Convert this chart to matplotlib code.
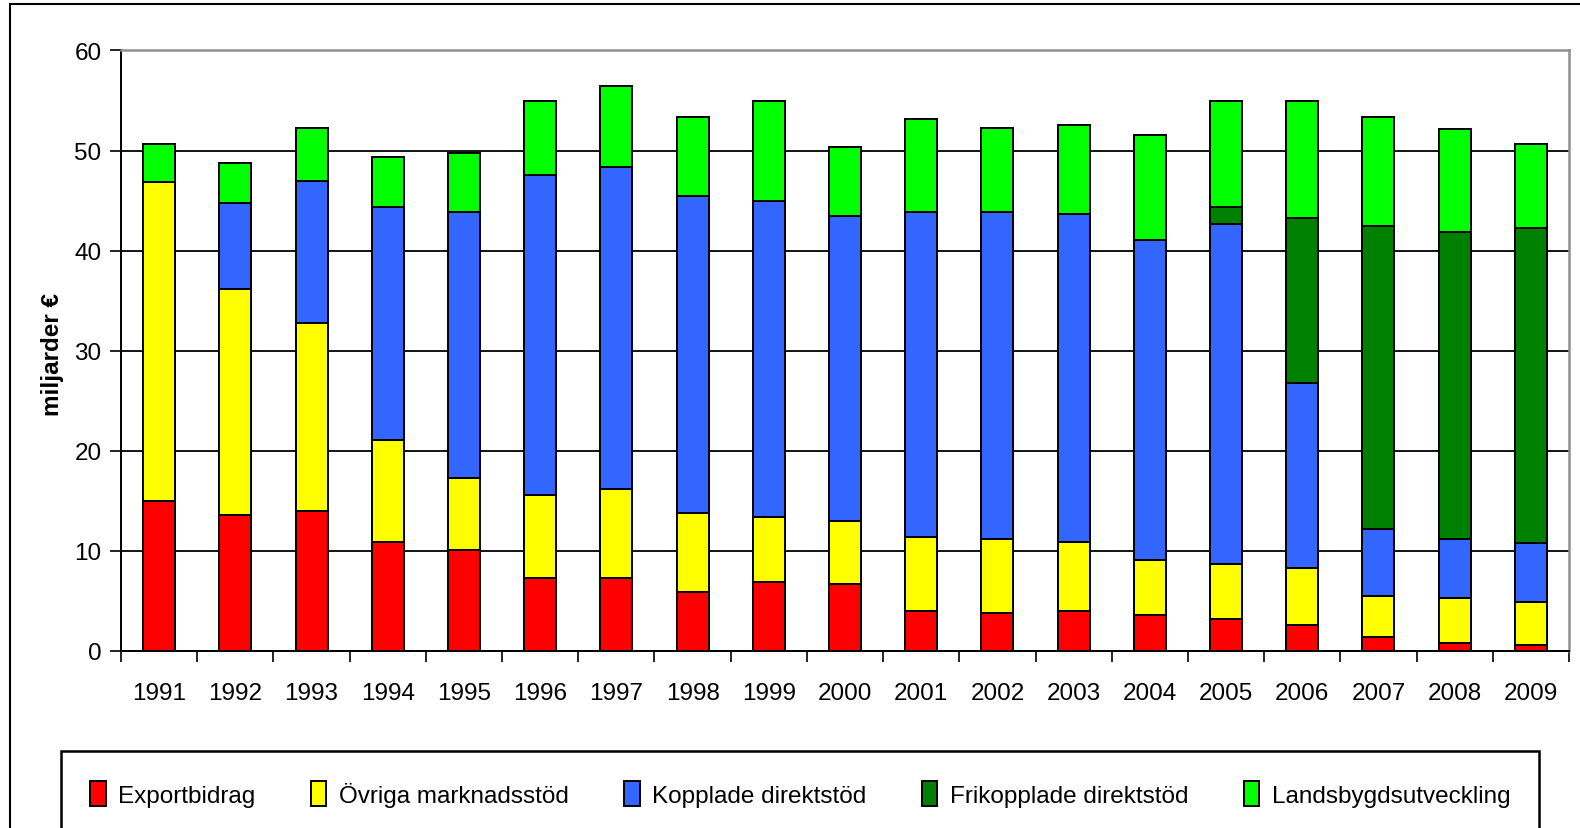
import numpy as np
import matplotlib.pyplot as plt
from matplotlib.patches import Rectangle

plt.rcParams['font.family'] = ['Liberation Sans', 'DejaVu Sans']

years = [str(y) for y in range(1991, 2010)]

# miljarder euro per category
exportbidrag = [15.0, 13.6, 14.0, 10.9, 10.1, 7.3, 7.3, 5.9, 6.9, 6.7,
                4.0, 3.8, 4.0, 3.6, 3.2, 2.6, 1.4, 0.8, 0.6]
ovriga = [31.9, 22.6, 18.8, 10.2, 7.2, 8.3, 8.9, 7.9, 6.5, 6.3,
          7.4, 7.4, 6.9, 5.5, 5.5, 5.7, 4.1, 4.5, 4.3]
kopplade = [0.0, 8.6, 14.2, 23.3, 26.6, 32.0, 32.2, 31.7, 31.6, 30.5,
            32.5, 32.7, 32.8, 32.0, 34.0, 18.5, 6.7, 5.9, 5.9]
frikopplade = [0.0, 0.0, 0.0, 0.0, 0.0, 0.0, 0.0, 0.0, 0.0, 0.0,
               0.0, 0.0, 0.0, 0.0, 1.7, 16.5, 30.3, 30.7, 31.5]
landsbygd = [3.7, 4.0, 5.2, 5.0, 5.9, 7.3, 8.0, 7.8, 9.9, 6.8,
             9.2, 8.3, 8.8, 10.4, 10.5, 11.6, 10.8, 10.2, 8.3]

series = [
    ('Exportbidrag', exportbidrag, '#FF0000'),
    ('Övriga marknadsstöd', ovriga, '#FFFF00'),
    ('Kopplade direktstöd', kopplade, '#3366FF'),
    ('Frikopplade direktstöd', frikopplade, '#008000'),
    ('Landsbygdsutveckling', landsbygd, '#00FF00'),
]

W, H = 1580, 829
fig = plt.figure(figsize=(W / 100, H / 100), dpi=100)
ax = fig.add_axes([121 / W, 1 - 652 / H, (1569 - 121) / W, (652 - 51.4) / H])

x = np.arange(len(years))
bottom = np.zeros(len(years))
handles = []
for name, vals, col in series:
    vals = np.array(vals)
    b = ax.bar(x, vals, 0.42, bottom=bottom, color=col, edgecolor='black',
               linewidth=1.4, label=name, zorder=3)
    handles.append(b)
    bottom += vals

ax.set_xlim(-0.5, len(years) - 0.5)
ax.set_ylim(0, 60)
ax.set_yticks(range(0, 61, 10))
ax.yaxis.grid(True, color='black', linewidth=1.3, zorder=0)
ax.set_axisbelow(True)

ax.set_xticks(np.arange(-0.5, len(years), 1.0))
ax.set_xticklabels([])
ax.set_xticks(x, minor=True)
ax.set_xticklabels(years, minor=True)
ax.tick_params(axis='x', which='major', direction='out', length=8, width=1.2, color='black')
ax.tick_params(axis='x', which='minor', length=0, pad=22, labelsize=17.5)
ax.tick_params(axis='y', direction='out', length=8, width=1.2, labelsize=17.5, pad=6)

for s in ['left', 'bottom']:
    ax.spines[s].set_color('black')
    ax.spines[s].set_linewidth(1.4)
for s in ['top', 'right']:
    ax.spines[s].set_color('#909090')
    ax.spines[s].set_linewidth(1.8)

fig.text(52 / W, 1 - 355 / H, 'miljarder €', rotation=90, fontsize=17.5,
         fontweight='bold', ha='center', va='center')

# outer frame of the chart
fig.patches.append(Rectangle((10 / W, -0.05), 1.2, 1 - 5 / H + 0.05, transform=fig.transFigure,
                             fill=False, edgecolor='black', linewidth=1.5))
# legend frame
lx0, lx1, ly0, ly1 = 61 / W, 1539 / W, 1 - 838 / H, 1 - 752 / H
fig.patches.append(Rectangle((lx0, ly0), lx1 - lx0, ly1 - ly0, transform=fig.transFigure,
                             fill=False, edgecolor='black', linewidth=1.8))
fig.legend(handles=handles, loc='center', ncol=5, mode='expand', frameon=False,
           bbox_to_anchor=(lx0 + 7 / W, ly0, lx1 - lx0 - 14 / W, ly1 - ly0),
           fontsize=17.5, handlelength=0.65, handleheight=1.2, handletextpad=0.5)

fig.savefig('out.png', dpi=100)
